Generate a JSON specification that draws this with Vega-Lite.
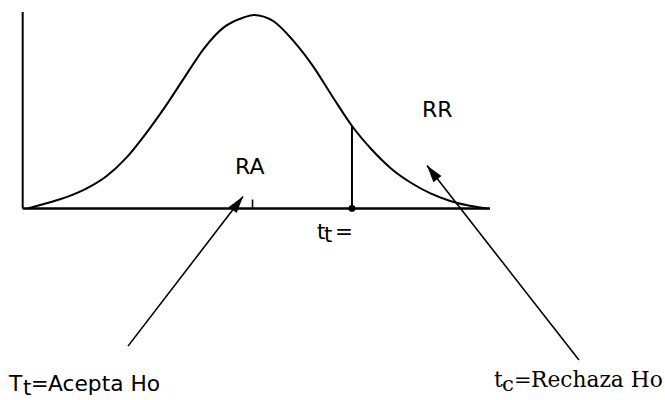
{
  "$schema": "https://vega.github.io/schema/vega-lite/v6.json",
  "width": 665,
  "height": 400,
  "padding": 0,
  "autosize": {"type": "fit", "contains": "padding"},
  "background": "white",
  "config": {"view": {"stroke": null}},
  "datasets": {
    "curve": [
      {"t": -2.83, "f": 0},
      {"t": -2.58, "f": 0.0113},
      {"t": -2.33, "f": 0.0238},
      {"t": -2.08, "f": 0.0413},
      {"t": -1.83, "f": 0.0663},
      {"t": -1.58, "f": 0.1038},
      {"t": -1.33, "f": 0.1538},
      {"t": -1.08, "f": 0.21},
      {"t": -0.83, "f": 0.2713},
      {"t": -0.58, "f": 0.3313},
      {"t": -0.33, "f": 0.3738},
      {"t": -0.08, "f": 0.3938},
      {"t": 0.05, "f": 0.399},
      {"t": 0.3, "f": 0.386},
      {"t": 0.55, "f": 0.346},
      {"t": 0.8, "f": 0.294},
      {"t": 1.05, "f": 0.231},
      {"t": 1.3, "f": 0.17},
      {"t": 1.55, "f": 0.1215},
      {"t": 1.8, "f": 0.082},
      {"t": 2.05, "f": 0.053},
      {"t": 2.3, "f": 0.031},
      {"t": 2.55, "f": 0.0155},
      {"t": 2.8, "f": 0.0055},
      {"t": 3.02, "f": 0}
    ],
    "segments": [
      {"part": "axis", "x": -2.896, "y": 0, "x2": -2.896, "y2": 0.405},
      {"part": "base", "x": -2.896, "y": 0, "x2": 3.057, "y2": 0},
      {"part": "tick", "x": 0.032, "y": 0, "x2": 0.032, "y2": 0.0185},
      {"part": "crit", "x": 1.299, "y": 0, "x2": 1.299, "y2": 0.1695},
      {"part": "arrowA", "x": -1.554, "y": -0.2838, "x2": -0.089, "y2": 0.0247},
      {"part": "arrowR", "x": 4.191, "y": -0.3126, "x2": 2.255, "y2": 0.0884}
    ],
    "critical": [{"t": 1.299, "f": 0}],
    "sansLabels": [
      {"x": -0.191, "y": 0.072, "role": "region", "label": "RA"},
      {"x": 2.191, "y": 0.189, "role": "region", "label": "RR"},
      {"x": -3.07, "y": -0.3763, "role": "main", "label": "T"},
      {"x": -2.892, "y": -0.3845, "role": "sub", "label": "t"},
      {"x": -2.79, "y": -0.3763, "role": "eq", "label": "="},
      {"x": -2.573, "y": -0.3763, "role": "main", "label": "Acepta Ho"},
      {"x": 0.854, "y": -0.0637, "role": "mid", "label": "t"},
      {"x": 0.943, "y": -0.0699, "role": "sub", "label": "t"},
      {"x": 1.083, "y": -0.0637, "role": "mid", "label": "="}
    ],
    "serifLabels": [
      {"x": 3.108, "y": -0.3681, "role": "main", "label": "t"},
      {"x": 3.21, "y": -0.3763, "role": "sub", "label": "c"},
      {"x": 3.363, "y": -0.3681, "role": "eq", "label": "="},
      {"x": 3.58, "y": -0.3681, "role": "main", "label": "Rechaza Ho"}
    ]
  },
  "layer": [
    {
      "data": {"name": "segments"},
      "transform": [{"filter": "datum.part === 'axis' || datum.part === 'crit'"}],
      "mark": {"type": "rule", "color": "black", "strokeWidth": 2},
      "encoding": {
        "x": {"field": "x", "type": "quantitative", "scale": {"domain": [-3.185, 5.287], "nice": false, "zero": false}, "axis": null},
        "y": {"field": "y", "type": "quantitative", "scale": {"domain": [-0.3928, 0.4298], "nice": false, "zero": false}, "axis": null},
        "x2": {"field": "x2"},
        "y2": {"field": "y2"}
      }
    },
    {
      "data": {"name": "segments"},
      "transform": [{"filter": "datum.part === 'base'"}],
      "mark": {"type": "rule", "color": "black", "strokeWidth": 2.5},
      "encoding": {
        "x": {"field": "x", "type": "quantitative", "axis": null},
        "y": {"field": "y", "type": "quantitative", "axis": null},
        "x2": {"field": "x2"},
        "y2": {"field": "y2"}
      }
    },
    {
      "data": {"name": "segments"},
      "transform": [{"filter": "datum.part === 'tick' || datum.part === 'arrowA' || datum.part === 'arrowR'"}],
      "mark": {"type": "rule", "color": "black", "strokeWidth": 1.6},
      "encoding": {
        "x": {"field": "x", "type": "quantitative", "axis": null},
        "y": {"field": "y", "type": "quantitative", "axis": null},
        "x2": {"field": "x2"},
        "y2": {"field": "y2"}
      }
    },
    {
      "data": {"name": "curve"},
      "mark": {"type": "line", "color": "black", "strokeWidth": 2, "interpolate": "monotone"},
      "encoding": {
        "x": {"field": "t", "type": "quantitative", "axis": null},
        "y": {"field": "f", "type": "quantitative", "axis": null}
      }
    },
    {
      "data": {"name": "critical"},
      "mark": {"type": "point", "filled": true, "color": "black", "size": 45, "opacity": 1},
      "encoding": {
        "x": {"field": "t", "type": "quantitative", "axis": null},
        "y": {"field": "f", "type": "quantitative", "axis": null}
      }
    },
    {
      "data": {"name": "segments"},
      "transform": [{"filter": "datum.part === 'arrowA'"}],
      "mark": {"type": "point", "filled": true, "color": "black", "opacity": 1, "size": 289, "shape": "M0,0L0.6,2L-0.6,2Z", "angle": 37.5},
      "encoding": {
        "x": {"field": "x2", "type": "quantitative", "axis": null},
        "y": {"field": "y2", "type": "quantitative", "axis": null}
      }
    },
    {
      "data": {"name": "segments"},
      "transform": [{"filter": "datum.part === 'arrowR'"}],
      "mark": {"type": "point", "filled": true, "color": "black", "opacity": 1, "size": 289, "shape": "M0,0L0.6,2L-0.6,2Z", "angle": 322.1},
      "encoding": {
        "x": {"field": "x2", "type": "quantitative", "axis": null},
        "y": {"field": "y2", "type": "quantitative", "axis": null}
      }
    },
    {
      "data": {"name": "sansLabels"},
      "mark": {"type": "text", "font": "DejaVu Sans", "align": "left", "baseline": "alphabetic", "color": "black"},
      "encoding": {
        "x": {"field": "x", "type": "quantitative", "axis": null},
        "y": {"field": "y", "type": "quantitative", "axis": null},
        "text": {"field": "label"},
        "size": {"field": "role", "type": "nominal", "scale": {"domain": ["region", "main", "mid", "sub", "eq"], "range": [22, 21, 16, 11, 17]}, "legend": null}
      }
    },
    {
      "data": {"name": "serifLabels"},
      "mark": {"type": "text", "font": "DejaVu Serif", "align": "left", "baseline": "alphabetic", "color": "black"},
      "encoding": {
        "x": {"field": "x", "type": "quantitative", "axis": null},
        "y": {"field": "y", "type": "quantitative", "axis": null},
        "text": {"field": "label"},
        "size": {"field": "role", "type": "nominal", "scale": {"domain": ["region", "main", "mid", "sub", "eq"], "range": [22, 21, 16, 11, 17]}, "legend": null}
      }
    }
  ]
}
